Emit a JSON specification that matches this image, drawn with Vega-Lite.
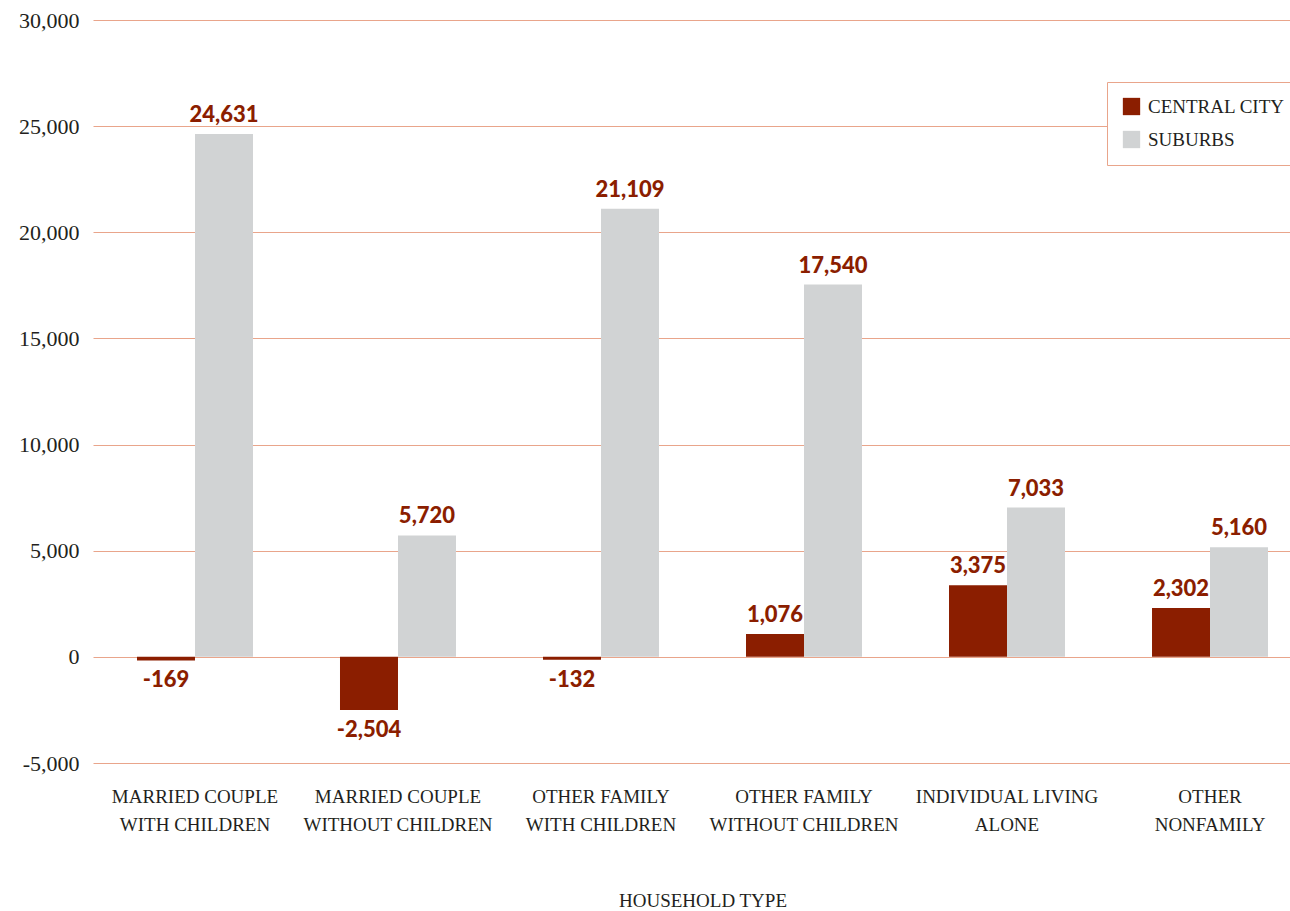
{
  "$schema": "https://vega.github.io/schema/vega-lite/v6.json",
  "width": 1197,
  "height": 743,
  "autosize": {"type": "none"},
  "padding": {"left": 93, "top": 20, "right": 0, "bottom": 148},
  "background": "white",
  "config": {
    "view": {"stroke": null},
    "font": "Liberation Serif",
    "locale": {"number": {"decimal": ".", "thousands": ",", "grouping": [3], "currency": ["$", ""], "minus": "-"}}
  },
  "data": {
    "values": [
      {"type": "Married Couple with Children", "series": "Central City", "value": -169},
      {"type": "Married Couple with Children", "series": "Suburbs", "value": 24631},
      {"type": "Married Couple without Children", "series": "Central City", "value": -2504},
      {"type": "Married Couple without Children", "series": "Suburbs", "value": 5720},
      {"type": "Other Family with Children", "series": "Central City", "value": -132},
      {"type": "Other Family with Children", "series": "Suburbs", "value": 21109},
      {"type": "Other Family without Children", "series": "Central City", "value": 1076},
      {"type": "Other Family without Children", "series": "Suburbs", "value": 17540},
      {"type": "Individual Living Alone", "series": "Central City", "value": 3375},
      {"type": "Individual Living Alone", "series": "Suburbs", "value": 7033},
      {"type": "Other Nonfamily", "series": "Central City", "value": 2302},
      {"type": "Other Nonfamily", "series": "Suburbs", "value": 5160}
    ]
  },
  "encoding": {
    "x": {
      "field": "type",
      "type": "nominal",
      "sort": null,
      "scale": {"range": [0, 1219], "paddingInner": 0.4286, "paddingOuter": 0.2167},
      "axis": {
        "title": "HOUSEHOLD TYPE",
        "titleFont": "Liberation Serif",
        "titleFontSize": 19,
        "titleFontWeight": "normal",
        "titleColor": "#231F20",
        "titlePadding": 57,
        "labelAngle": 0,
        "labelFont": "Liberation Serif",
        "labelFontSize": 19,
        "labelColor": "#231F20",
        "labelLineHeight": 28,
        "labelPadding": 24,
        "labelLimit": 400,
        "labelExpr": "datum.value == 'Married Couple with Children' ? ['MARRIED COUPLE','WITH CHILDREN'] : datum.value == 'Married Couple without Children' ? ['MARRIED COUPLE','WITHOUT CHILDREN'] : datum.value == 'Other Family with Children' ? ['OTHER FAMILY','WITH CHILDREN'] : datum.value == 'Other Family without Children' ? ['OTHER FAMILY','WITHOUT CHILDREN'] : datum.value == 'Individual Living Alone' ? ['INDIVIDUAL LIVING','ALONE'] : ['OTHER','NONFAMILY']",
        "domain": false,
        "ticks": false,
        "grid": false
      }
    },
    "xOffset": {"field": "series", "type": "nominal", "sort": ["Central City", "Suburbs"], "scale": {"paddingInner": 0, "paddingOuter": 0}},
    "y": {
      "field": "value",
      "type": "quantitative",
      "scale": {"domain": [-5000, 30000], "nice": false, "zero": false},
      "axis": {
        "title": null,
        "values": [-5000, 0, 5000, 10000, 15000, 20000, 25000, 30000],
        "format": ",.0f",
        "labelFont": "Liberation Serif",
        "labelFontSize": 22,
        "labelColor": "#231F20",
        "labelPadding": 14,
        "domain": false,
        "ticks": false,
        "grid": true,
        "gridColor": "#E9A58B",
        "gridWidth": 1
      }
    }
  },
  "layer": [
    {
      "mark": {"type": "bar"},
      "encoding": {
        "color": {
          "field": "series",
          "type": "nominal",
          "scale": {"domain": ["Central City", "Suburbs"], "range": ["#8B1E00", "#D1D3D4"]},
          "legend": {
            "title": null,
            "orient": "none",
            "legendX": 1014,
            "legendY": 62,
            "padding": 15,
            "strokeColor": "#E9A58B",
            "fillColor": "white",
            "symbolType": "square",
            "symbolSize": 300,
            "symbolStrokeWidth": 0,
            "labelFont": "Liberation Serif",
            "labelFontSize": 19,
            "labelColor": "#231F20",
            "labelExpr": "upper(datum.label)",
            "rowPadding": 13,
            "labelOffset": 7
          }
        }
      }
    },
    {
      "transform": [{"filter": "datum.value >= 0"}],
      "mark": {"type": "text", "baseline": "alphabetic", "dy": -12, "font": "Lato", "fontWeight": 900, "fontSize": 22, "color": "#8B1E00"},
      "encoding": {"text": {"field": "value", "type": "quantitative", "format": ",.0f"}}
    },
    {
      "transform": [{"filter": "datum.value < 0"}],
      "mark": {"type": "text", "baseline": "top", "dy": 10, "font": "Lato", "fontWeight": 900, "fontSize": 22, "color": "#8B1E00"},
      "encoding": {"text": {"field": "value", "type": "quantitative", "format": ",.0f"}}
    }
  ]
}
